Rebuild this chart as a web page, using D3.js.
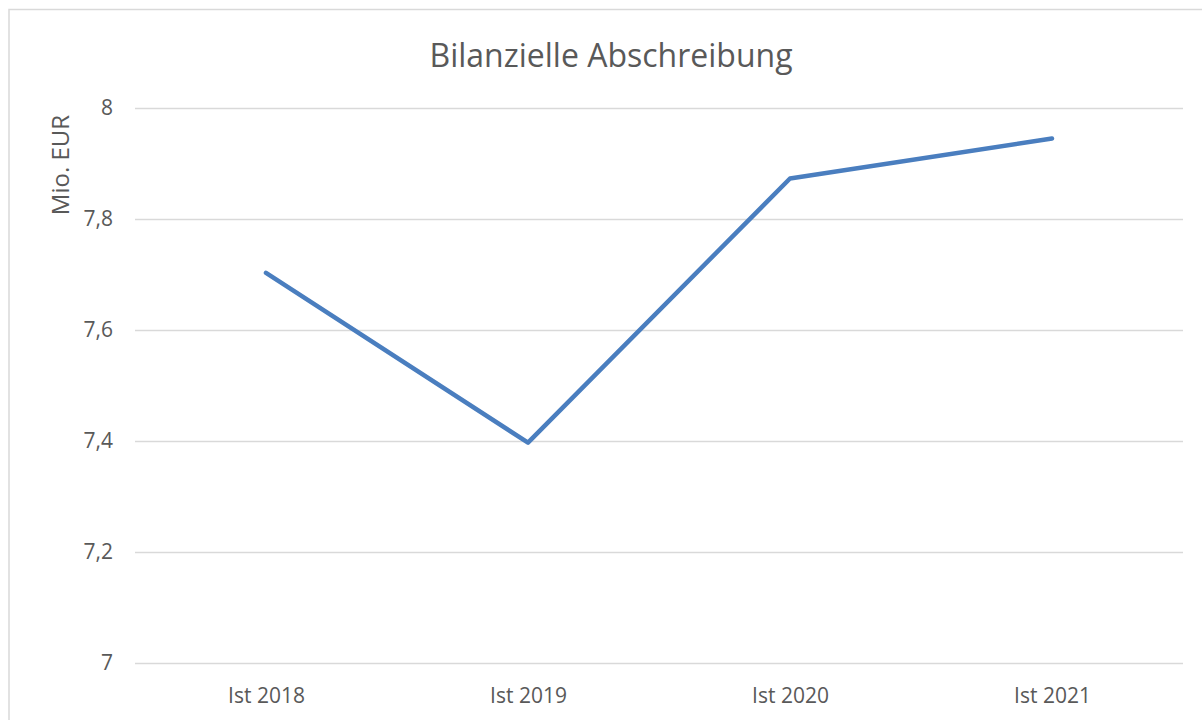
<!DOCTYPE html>
<html>
<head>
<meta charset="utf-8">
<script src="https://cdn.jsdelivr.net/npm/d3@7"></script>
<style>
  body { margin: 0; background: #fff; }
  text { font-family: "Open Sans", sans-serif; fill: #595959; }
</style>
</head>
<body>
<script>
// Chart data
var categories = ["Ist 2018", "Ist 2019", "Ist 2020", "Ist 2021"];
var values = [7.703, 7.397, 7.873, 7.945];
var yTicks = [7, 7.2, 7.4, 7.6, 7.8, 8];

var svgWidth = 1202;
var svgHeight = 720;

var chartMargin = { top: 108, right: 19, bottom: 57, left: 135 };
var chartWidth = svgWidth - chartMargin.left - chartMargin.right;
var chartHeight = svgHeight - chartMargin.top - chartMargin.bottom;

var svg = d3.select("body")
  .append("svg")
  .attr("width", svgWidth)
  .attr("height", svgHeight);

// outer chart border
svg.append("rect")
  .attr("x", 9)
  .attr("y", 9.5)
  .attr("width", svgWidth + 10)
  .attr("height", svgHeight + 10)
  .attr("fill", "none")
  .attr("stroke", "#d9d9d9")
  .attr("stroke-width", 1.5);

var chartGroup = svg.append("g")
  .attr("transform", `translate(${chartMargin.left}, ${chartMargin.top})`);

var xScale = d3.scalePoint()
  .domain(categories)
  .range([0, chartWidth])
  .padding(0.5);

var yScale = d3.scaleLinear()
  .domain([7, 8])
  .range([chartHeight, 0]);

// gridlines + y labels
var yAxis = d3.axisLeft(yScale)
  .tickValues(yTicks)
  .tickSize(-chartWidth)
  .tickPadding(22)
  .tickFormat(d => d3.format(".1~f")(d).replace(".", ","));

var yG = chartGroup.append("g").call(yAxis);
yG.select(".domain").remove();
yG.selectAll("line").attr("stroke", "#d9d9d9").attr("stroke-width", 1.5);
yG.selectAll("text").style("font-size", "21px").attr("fill", "#595959");

var xAxis = d3.axisBottom(xScale).tickSize(0).tickPadding(25);
var xG = chartGroup.append("g")
  .attr("transform", `translate(0, ${chartHeight})`)
  .call(xAxis);
xG.select(".domain").remove();
xG.selectAll("text").style("font-size", "21px").attr("fill", "#595959");

// strip d3's default font on axis groups
svg.selectAll("g").attr("font-family", null).attr("font-size", null);

// the line
var line = d3.line()
  .x((d, i) => xScale(categories[i]))
  .y(d => yScale(d));

chartGroup.append("path")
  .datum(values)
  .attr("d", line)
  .attr("fill", "none")
  .attr("stroke", "#4a7ebf")
  .attr("stroke-width", 4.5)
  .attr("stroke-linecap", "round")
  .attr("stroke-linejoin", "round");

// title
svg.append("text")
  .attr("x", 611)
  .attr("y", 67)
  .attr("text-anchor", "middle")
  .style("font-size", "32px")
  .text("Bilanzielle Abschreibung");

// y axis title
svg.append("text")
  .attr("transform", "translate(69, 165) rotate(-90)")
  .attr("text-anchor", "middle")
  .style("font-size", "24px")
  .text("Mio. EUR");
</script>
</body>
</html>
